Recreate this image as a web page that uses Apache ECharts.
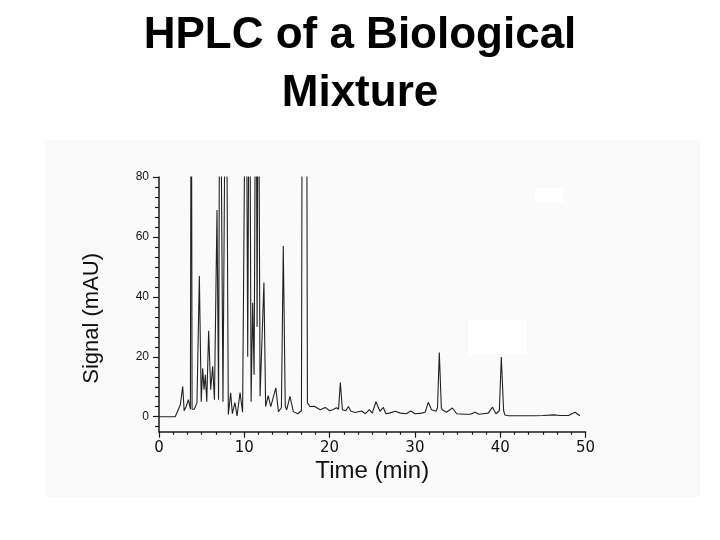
<!DOCTYPE html>
<html>
<head>
<meta charset="utf-8">
<script src="https://cdn.jsdelivr.net/npm/echarts@6/dist/echarts.min.js"></script>
<style>html,body{margin:0;padding:0;background:#fff;}#c{width:720px;height:540px;}</style>
</head>
<body>
<div id="c"></div>
<script>
// Retention time (min)
const times = [0, 1.9, 2.2, 2.5, 2.78, 2.95, 3.2, 3.44, 3.68, 3.78, 3.88, 4.14, 4.45, 4.73, 4.95, 5.12, 5.28, 5.43, 5.6, 5.82, 6.06, 6.29, 6.5, 6.8, 6.98, 7.15, 7.5, 7.85, 8.13, 8.4, 8.6, 8.9, 9.15, 9.5, 9.8, 10.2, 10.4, 10.6, 10.8, 10.98, 11.15, 11.37, 11.5, 11.64, 11.85, 12.3, 12.5, 12.8, 13.1, 13.7, 14.0, 14.35, 14.57, 14.8, 14.97, 15.35, 15.75, 16.25, 16.7, 16.85, 17.25, 17.4, 17.7, 18.2, 18.9, 19.5, 20.0, 20.45, 20.8, 21.05, 21.26, 21.5, 21.9, 22.2, 22.5, 23.0, 23.75, 24.2, 24.66, 25.0, 25.44, 25.9, 26.3, 26.6, 27.0, 27.7, 28.3, 29.0, 29.5, 30.0, 30.8, 31.2, 31.57, 31.95, 32.47, 32.65, 32.86, 33.1, 33.2, 33.7, 34.4, 34.9, 35.9, 36.5, 37.05, 37.5, 38.0, 38.6, 39.1, 39.5, 39.9, 40.13, 40.4, 40.55, 41, 42, 43, 44, 45, 46.3, 47, 48, 48.77, 49.35];
// Detector signal (mAU); peaks above 80 run off the top of the plot
const signals = [0, 0, 2, 4, 10.1, 2, 3.5, 5.7, 2.5, 150, 2.5, 2.5, 4.7, 47, 5, 16.2, 9, 14, 5, 28.7, 9, 16.8, 5.7, 69, 5.7, 150, 5, 150, 0.7, 8, 1, 4.7, 0.3, 8.1, 1.5, 150, 20, 150, 5, 38, 14, 150, 30, 150, 6.8, 44.8, 3.4, 7, 3.4, 9.6, 1.7, 3, 57, 3.5, 2.3, 6.8, 1.7, 1, 2, 200, 200, 4.6, 3.4, 3.5, 2.3, 3.1, 2, 2.4, 3, 2.5, 11.4, 2.3, 2, 3.4, 1.8, 1.4, 1.9, 1, 2.4, 1.2, 5, 1.8, 3.1, 1, 1.2, 1.8, 1.2, 1, 1.9, 1, 1.2, 1.5, 4.8, 2.3, 1.8, 3, 21.4, 3, 2.3, 1.5, 2.9, 1, 0.8, 0.8, 1.5, 0.8, 1, 1.2, 3.2, 1, 2, 19.9, 2, 0.6, 0.3, 0.3, 0.3, 0.3, 0.4, 0.6, 0.4, 0.4, 1.5, 0.3];
const xTicks = [0, 10, 20, 30, 40, 50];
const yTicks = [0, 20, 40, 60, 80];
const yMinorSplit = 6;

const yMin = -5, yMax = 80;
const yMinor = [];
const step = (yTicks[1] - yTicks[0]) / yMinorSplit;
for (let v = yTicks[0] - step; v <= yMax + 1e-6; v += step) {
  if (v >= yMin && !yTicks.some(t => Math.abs(t - v) < 1e-6)) yMinor.push(+v.toFixed(4));
}

const data = times.map((t, i) => [t, signals[i]]);
const chart = echarts.init(document.getElementById('c'), null, {renderer: 'canvas'});
const axisColor = '#1a1a1a';
chart.setOption({
  animation: false,
  backgroundColor: '#ffffff',
  title: {
    text: 'HPLC of a Biological\nMixture',
    left: 'center',
    top: 2,
    textStyle: {fontFamily: 'Liberation Sans, Arial, sans-serif', fontWeight: 'bold', fontSize: 44, lineHeight: 58, color: '#000'}
  },
  graphic: [
    {type: 'rect', z: -10, silent: true, shape: {x: 45, y: 140, width: 655, height: 357}, style: {fill: '#fafafa'}},
    {type: 'rect', z: -9, silent: true, shape: {x: 468, y: 320, width: 59, height: 34}, style: {fill: '#ffffff'}},
    {type: 'rect', z: -9, silent: true, shape: {x: 535, y: 188, width: 28, height: 14}, style: {fill: '#ffffff'}}
  ],
  grid: {left: 159, right: 134.5, top: 177, bottom: 108.3, containLabel: false},
  xAxis: {
    type: 'value', min: 0, max: 50, interval: 10,
    name: 'Time (min)', nameLocation: 'middle', nameGap: 28,
    nameTextStyle: {fontFamily: 'Liberation Sans, Arial, sans-serif', fontSize: 24, color: '#111'},
    axisLine: {onZero: false, lineStyle: {color: axisColor, width: 1.5}},
    axisTick: {length: 6, lineStyle: {color: axisColor, width: 1.2}},
    minorTick: {show: true, splitNumber: 6, length: 3, lineStyle: {color: axisColor, width: 1.2}},
    axisLabel: {margin: 9, fontFamily: 'DejaVu Sans, sans-serif', fontSize: 15, color: '#111',
      customValues: xTicks},
    splitLine: {show: false}
  },
  yAxis: [{
    type: 'value', min: yMin, max: yMax,
    name: 'Signal (mAU)', nameLocation: 'middle', nameGap: 56,
    nameTextStyle: {fontFamily: 'Liberation Sans, Arial, sans-serif', fontSize: 22, color: '#111', padding: [0, 28, 0, 0]},
    axisLine: {onZero: false, lineStyle: {color: axisColor, width: 1.5}},
    axisTick: {length: 6, customValues: yTicks, lineStyle: {color: axisColor, width: 1.2}},
    axisLabel: {margin: 10, fontFamily: 'Liberation Sans, Arial, sans-serif', fontSize: 12, color: '#111', customValues: yTicks},
    splitLine: {show: false}
  }, {
    type: 'value', min: yMin, max: yMax, position: 'left', offset: 0,
    axisLine: {show: false, onZero: false},
    axisTick: {show: true, length: 4, customValues: yMinor, lineStyle: {color: axisColor, width: 1.2}},
    axisLabel: {show: false},
    splitLine: {show: false}
  }],
  series: [{
    type: 'line',
    data: data,
    showSymbol: false,
    clip: true,
    lineStyle: {color: '#222', width: 1.1},
    z: 3
  }]
});
</script>
</body>
</html>
